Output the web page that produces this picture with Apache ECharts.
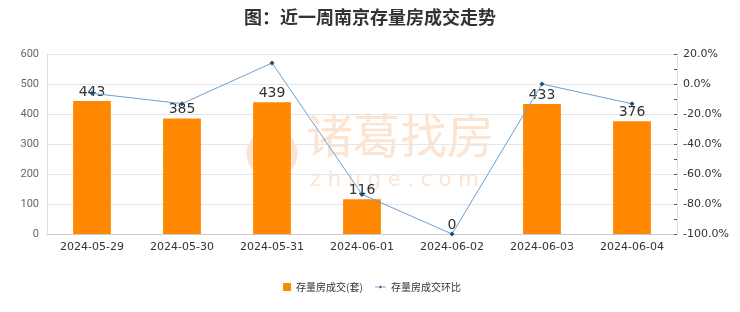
<!DOCTYPE html>
<html><head><meta charset="utf-8">
<script src="https://cdn.jsdelivr.net/npm/echarts@6/dist/echarts.min.js"></script>
<style>html,body{margin:0;padding:0;background:#fff}#c{width:740px;height:312px}</style>
</head><body><div id="c"></div>
<script>
const categories = ['2024-05-29','2024-05-30','2024-05-31','2024-06-01','2024-06-02','2024-06-03','2024-06-04'];
const volume = [443, 385, 439, 116, 0, 433, 376];
const ratio = [-6.2, -13.1, 14.0, -73.6, -100, 0, -13.2];
const leftTicks = [0, 600, 100];
const rightTicks = [-100, 20, 20];

const wm = 'rgba(245,170,110,0.32)';
const leafL = [[268,124],[258,131],[250,141],[246,152],[248,163],[256,174],[264,174],[256,163],[255,150],[259,138],[268,129]];
const leafR = leafL.map(p => [544 - p[0], p[1]]);
const legendText = { fontSize: 10, color: '#333', fontFamily: 'Noto Sans CJK SC' };
const chart = echarts.init(document.getElementById('c'));
chart.setOption({
  animation: false,
  title: { text: '图：近一周南京存量房成交走势', left: 'center', top: 3,
    textStyle: { fontSize: 18, fontWeight: 'bold', color: '#333', fontFamily: 'Noto Sans CJK SC' } },
  graphic: [
    { type: 'text', z: -10, left: 306, top: 112, style: { text: '诸葛找房', fontSize: 47, fill: wm, fontFamily: 'Noto Sans CJK SC' } },
    { type: 'text', z: -10, left: 310, top: 170, style: { text: 'z h u g e . c o m', fontSize: 21, fill: wm, fontFamily: 'DejaVu Sans' } },
    { type: 'polygon', z: -10, shape: { points: leafL }, style: { fill: wm } },
    { type: 'polygon', z: -10, shape: { points: leafR }, style: { fill: wm } }
  ],
  legend: [
    { left: 283, bottom: 20, padding: 0, itemWidth: 8, itemHeight: 8, itemGap: 0, textStyle: legendText,
      data: [{ name: '存量房成交(套)', icon: 'rect' }] },
    { left: 375, bottom: 20, padding: 0, itemWidth: 11, itemHeight: 7, textStyle: legendText,
      data: [{ name: '存量房成交环比', icon: 'path://M0,4.5 L15,4.5 L15,5.5 L0,5.5 Z M7.5,3 L9.5,5 L7.5,7 L5.5,5 Z' }] }
  ],
  grid: { left: 47, right: 63, top: 54, bottom: 78 },
  xAxis: { type: 'category', data: categories,
    axisLine: { lineStyle: { color: '#ccc' } }, axisTick: { show: false },
    axisLabel: { color: '#333', fontSize: 11, margin: 8, interval: 0, fontFamily: 'DejaVu Sans' } },
  yAxis: [
    { type: 'value', min: leftTicks[0], max: leftTicks[1], interval: leftTicks[2],
      axisLine: { show: true, lineStyle: { color: '#ddd' } },
      axisLabel: { color: '#666', fontSize: 11, fontFamily: 'Roboto' },
      splitLine: { lineStyle: { color: '#e6e6e6' } } },
    { type: 'value', min: rightTicks[0], max: rightTicks[1], interval: rightTicks[2],
      axisLine: { show: true, lineStyle: { color: '#ddd' } },
      axisTick: { show: true, length: 3, inside: true, lineStyle: { color: '#555' } },
      minorTick: { show: true, splitNumber: 2, length: 3, lineStyle: { color: '#555' } },
      axisLabel: { color: '#333', fontSize: 11, margin: 6, fontFamily: 'DejaVu Sans', formatter: v => v.toFixed(1) + '%' },
      splitLine: { show: false } }
  ],
  series: [
    { name: '存量房成交(套)', type: 'bar', data: volume, barWidth: '42%',
      itemStyle: { color: '#FF8800' },
      label: { show: true, position: 'top', color: '#333', fontSize: 14, distance: 2, fontFamily: 'DejaVu Sans' } },
    { name: '存量房成交环比', type: 'line', yAxisIndex: 1, data: ratio,
      symbol: 'diamond', symbolSize: 5,
      lineStyle: { color: '#6a9fd4', width: 1 },
      itemStyle: { color: '#1f4e79' } }
  ]
});
</script></body></html>
